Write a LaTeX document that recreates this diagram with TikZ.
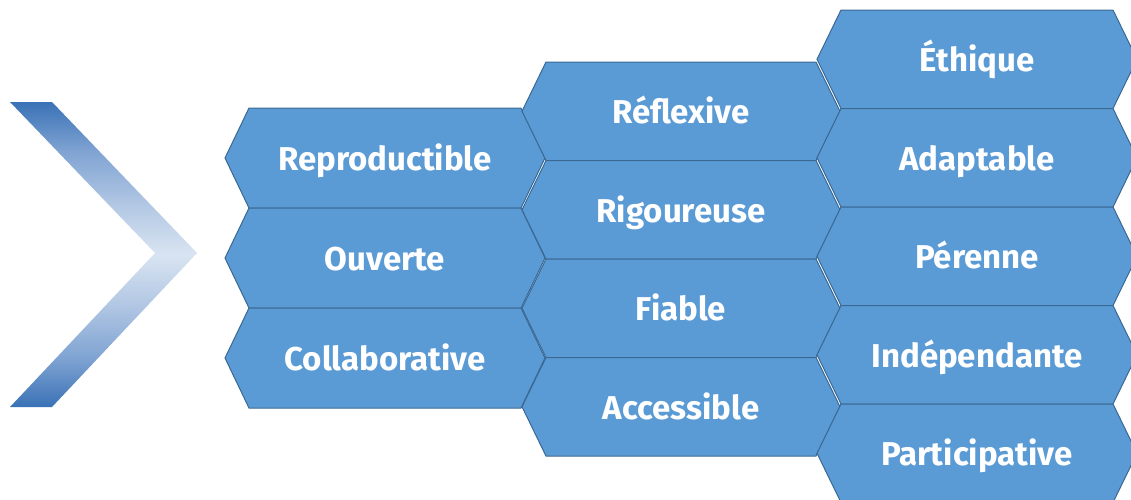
\documentclass[tikz,border=0pt]{standalone}
\usepackage{fontspec}
\setmainfont{Fira Sans}
\definecolor{hexfill}{HTML}{5B9BD5}
\definecolor{hexline}{HTML}{3A6894}
\definecolor{chevdark}{HTML}{3A72B6}
\definecolor{chevmid}{HTML}{7FA3D2}
\definecolor{chevsoft}{HTML}{B3C8E4}
\definecolor{chevlight}{HTML}{D8E4F1}
\pgfdeclareverticalshading{chevshade}{100bp}{%
  color(0bp)=(chevdark); color(25bp)=(chevdark); color(33bp)=(chevmid);
  color(42bp)=(chevsoft); color(50bp)=(chevlight); color(58bp)=(chevsoft);
  color(67bp)=(chevmid); color(75bp)=(chevdark); color(100bp)=(chevdark)}
\tikzset{
  hexs/.style={fill=hexfill, draw=hexline, line width=1pt, line join=miter},
  lbl/.style={text=white, font=\fontsize{33}{34}\selectfont\bfseries, inner sep=0pt, anchor=base},
}
\newcommand\hexa[6]{%
  \draw[hexs] (#2,{(#4+#5)/2}) -- (#2+24,#4) -- (#3-24,#4) -- (#3,{(#4+#5)/2}) -- (#3-24,#5) -- (#2+24,#5) -- cycle;
  \node[lbl] (#1) at ({(#2+#3)/2},{(#4+#5)/2+12.5}) {#6};}
\begin{document}
\begin{tikzpicture}[x=1pt,y=-1pt]
\useasboundingbox (0,0) rectangle (1131,499);
\clip (0,0) rectangle (1131,499);
% chevron
\path[shading=chevshade]
  (10,102) -- (52,102) -- (197,253) -- (52,407) -- (10,407) -- (155,253) -- cycle;
% column 1
\hexa{c1a}{225}{545}{108}{208}{Reproductible}
\hexa{c1b}{225}{545}{208}{308}{Ouverte}
\hexa{c1c}{225}{545}{308}{408}{Collaborative}
% column 2
\hexa{c2a}{522}{840}{62}{160.5}{Réflexive}
\hexa{c2b}{522}{840}{160.5}{259}{Rigoureuse}
\hexa{c2c}{522}{840}{259}{357.5}{Fiable}
\hexa{c2d}{522}{840}{357.5}{456}{Accessible}
% column 3
\hexa{c3a}{817}{1137}{10}{108.5}{Éthique}
\hexa{c3b}{817}{1137}{108.5}{207}{Adaptable}
\hexa{c3c}{817}{1137}{207}{305.5}{Pérenne}
\hexa{c3d}{817}{1137}{305.5}{404}{Indépendante}
\hexa{c3e}{817}{1137}{404}{502.5}{Participative}
\end{tikzpicture}
\end{document}
